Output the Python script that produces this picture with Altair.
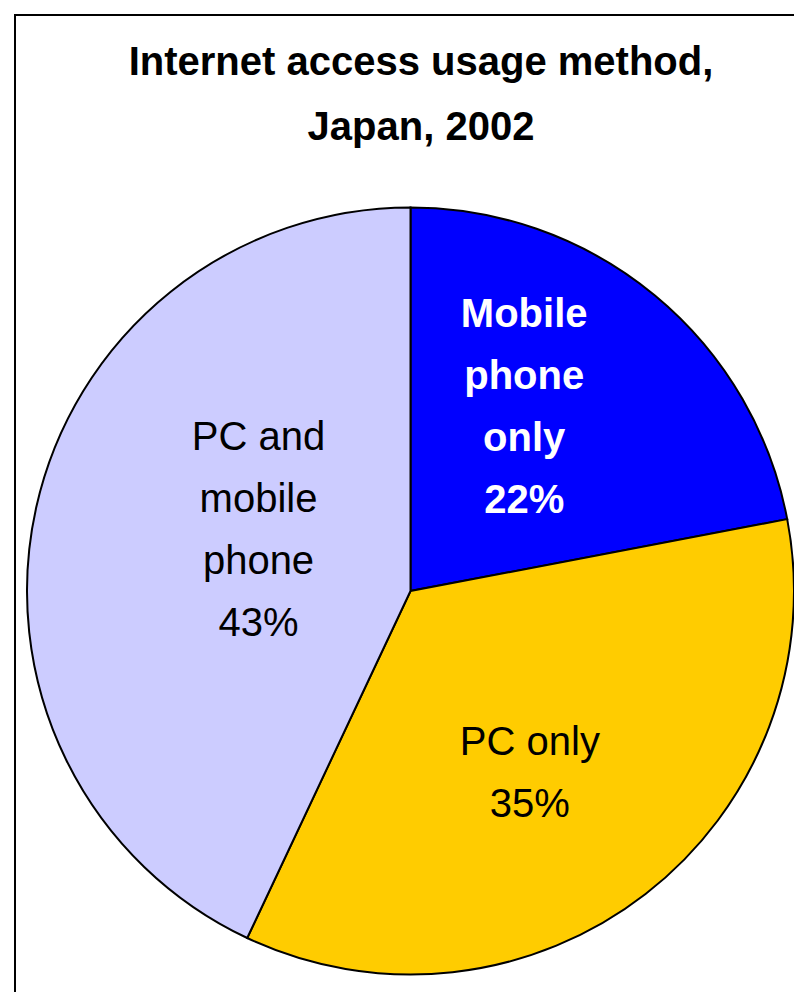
import math
import altair as alt
import pandas as pd

# ---- data ----
categories = ["Mobile phone only", "PC only", "PC and mobile phone"]
shares = [22, 35, 43]
labels = ["Mobile\nphone\nonly\n22%", "PC only\n35%", "PC and\nmobile\nphone\n43%"]
colors = ["#0000FF", "#FFCC00", "#CCCCFF"]
title_lines = ["Internet access usage method,", "Japan, 2002"]

df = pd.DataFrame({
    "category": categories,
    "share": shares,
    "label": labels,
    "order": list(range(len(categories))),
})

W, H = 786, 984
CX, CY, R = 402.5, 583, 383.5
FONT = "Liberation Sans Narrow, Arial Narrow, Liberation Sans, Arial, sans-serif"

theta_scale = alt.Scale(domain=[0, 100], range=[0, 2 * math.pi])
color_scale = alt.Scale(domain=categories, range=colors)

base = (
    alt.Chart(df)
    .transform_window(cum="sum(share)", sort=[alt.SortField("order")], frame=[None, 0])
    .transform_calculate(start="datum.cum - datum.share", mid="datum.cum - datum.share / 2")
)

pie = base.mark_arc(radius=R, stroke="black", strokeWidth=2).encode(
    theta=alt.Theta("start:Q", scale=theta_scale),
    theta2="cum:Q",
    color=alt.Color("category:N", scale=color_scale, legend=None),
    x=alt.value(CX),
    y=alt.value(CY),
)

label_style = {
    "Mobile phone only": dict(radius=216, dx=-24, dy=-98, color="white", fontWeight="bold"),
    "PC only": dict(radius=216, dx=-13, dy=-7, color="black", fontWeight="normal"),
    "PC and mobile phone": dict(radius=166, dx=10, dy=-105, color="black", fontWeight="normal"),
}

label_layers = []
for cat in categories:
    st = label_style[cat]
    label_layers.append(
        base.transform_filter(alt.datum.category == cat)
        .mark_text(
            radius=st["radius"], dx=st["dx"], dy=st["dy"],
            font=FONT, fontSize=40, fontWeight=st["fontWeight"], color=st["color"],
            align="center", baseline="alphabetic", lineBreak="\n", lineHeight=62,
        )
        .encode(
            theta=alt.Theta("mid:Q", scale=theta_scale),
            text="label:N",
            x=alt.value(CX),
            y=alt.value(CY),
        )
    )

title = (
    alt.Chart(pd.DataFrame({"t": ["\n".join(title_lines)]}))
    .mark_text(font=FONT, fontSize=40, fontWeight="bold", color="black",
               align="center", baseline="alphabetic", lineBreak="\n", lineHeight=65)
    .encode(text="t:N", x=alt.value(413), y=alt.value(67))
)

frame_df = pd.DataFrame({"a": [0]})
frame_left = alt.Chart(frame_df).mark_rule(color="black", strokeWidth=2).encode(
    x=alt.value(7), y=alt.value(6), y2=alt.value(H)
)
frame_top = alt.Chart(frame_df).mark_rule(color="black", strokeWidth=2).encode(
    x=alt.value(6), x2=alt.value(W), y=alt.value(7)
)

chart = (
    alt.layer(frame_left, frame_top, pie, *label_layers, title)
    .properties(width=W, height=H, padding=0, autosize=alt.AutoSizeParams(type="none"),
                background="white")
    .configure_view(stroke=None)
)

chart.save("out.html", embed_options={"renderer": "svg", "actions": False})
